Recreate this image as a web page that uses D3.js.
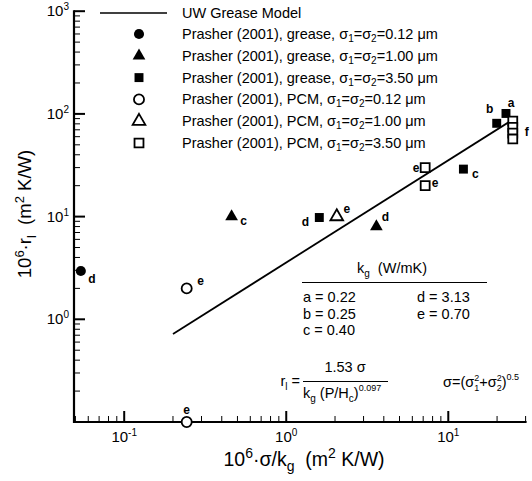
<!DOCTYPE html>
<html>
<head>
<meta charset="utf-8">
<script src="https://cdn.jsdelivr.net/npm/d3@7"></script>
<style>
  body { margin: 0; background: #fff; }
  text { font-family: "Liberation Sans", Arial, sans-serif; fill: #000; }
</style>
</head>
<body>
<div id="chart"></div>
<script>
// data (x = 10^6·sigma/kg, y = 10^6·r_l)
const modelX = [0.2, 25];
const modelY = [0.72, 88];

const greaseS012X = [0.054];
const greaseS012Y = [2.95];
const greaseS012Lbl = ["d"];

const greaseS100X = [0.46, 3.6];
const greaseS100Y = [10, 8];
const greaseS100Lbl = ["c", "d"];

const greaseS350X = [1.6, 12.4, 19.9, 22.7];
const greaseS350Y = [9.8, 29, 81, 101];
const greaseS350Lbl = ["d", "c", "b", "a"];

const pcmS012X = [0.243, 0.243];
const pcmS012Y = [2.0, 0.1];
const pcmS012Lbl = ["e", "e"];

const pcmS100X = [2.05];
const pcmS100Y = [10];
const pcmS100Lbl = ["e"];

const pcmS350X = [7.2, 7.2, 25, 25, 25, 25];
const pcmS350Y = [30, 20, 85, 74, 65, 57];
const pcmS350Lbl = ["e", "e", "", "", "f", ""];

const legendLabels = [
    ["grease", "0.12"], ["grease", "1.00"], ["grease", "3.50"],
    ["PCM", "0.12"], ["PCM", "1.00"], ["PCM", "3.50"]
];
const kgLabels = [["a = 0.22", "b = 0.25", "c = 0.40"], ["d = 3.13", "e = 0.70"]];

const xMajor = [0.1, 1, 10];
const xMajorExp = ["-1", "0", "1"];
const yMajor = [0.1, 1, 10, 100, 1000];
const yLabelled = [1, 10, 100, 1000];
const yLabelledExp = ["0", "1", "2", "3"];

const width = 532, height = 481;

const svg = d3.select("#chart")
  .append("svg")
    .attr("width", width)
    .attr("height", height);

const x = d3.scaleLog().domain([0.049, 30]).range([74, 525.6]);
const y = d3.scaleLog().domain([0.1, 1000]).range([422, 11.2]);

// ---- axes (ticks point inward) ----
const xMinor = [];
for (let dec of [0.01, 0.1, 1, 10]) for (let m = 2; m <= 9; m++) {
    const v = m * dec;
    if (v >= 0.049 && v <= 30) xMinor.push(v);
}
const yMinor = [];
for (let dec of [0.1, 1, 10, 100]) for (let m = 2; m <= 9; m++) yMinor.push(m * dec);

const axes = svg.append("g").attr("stroke", "#000");
axes.selectAll(".xmin").data(xMinor).enter().append("line")
    .attr("x1", d => x(d)).attr("x2", d => x(d))
    .attr("y1", y(0.1)).attr("y2", y(0.1) - 6).attr("stroke-width", 1);
axes.selectAll(".xmaj").data(xMajor).enter().append("line")
    .attr("x1", d => x(d)).attr("x2", d => x(d))
    .attr("y1", y(0.1)).attr("y2", y(0.1) - 11).attr("stroke-width", 2);
axes.selectAll(".ymin").data(yMinor).enter().append("line")
    .attr("x1", x(0.049)).attr("x2", x(0.049) + 6)
    .attr("y1", d => y(d)).attr("y2", d => y(d)).attr("stroke-width", 1);
axes.selectAll(".ymaj").data(yMajor).enter().append("line")
    .attr("x1", x(0.049)).attr("x2", x(0.049) + 11)
    .attr("y1", d => y(d)).attr("y2", d => y(d)).attr("stroke-width", 2);
axes.append("line")
    .attr("x1", x(0.049)).attr("x2", x(0.049))
    .attr("y1", y(1000) - 1).attr("y2", y(0.1) + 1).attr("stroke-width", 2.2);
axes.append("line")
    .attr("x1", x(0.049) - 1).attr("x2", x(30) + 1)
    .attr("y1", y(0.1)).attr("y2", y(0.1)).attr("stroke-width", 2.2);

// tick labels
const xt = svg.selectAll(".xt").data(xMajor).enter().append("text")
    .attr("x", d => x(d)).attr("y", 442)
    .attr("text-anchor", "middle").style("font-size", "15px");
xt.append("tspan").text("10");
xt.append("tspan").attr("dy", -6).style("font-size", "10px").text((d, i) => xMajorExp[i]);

const yt = svg.selectAll(".yt").data(yLabelled).enter().append("text")
    .attr("x", 69).attr("y", d => y(d) + 5)
    .attr("text-anchor", "end").style("font-size", "15px");
yt.append("tspan").text("10");
yt.append("tspan").attr("dy", -6).style("font-size", "10px").text((d, i) => yLabelledExp[i]);

// axis titles
const xTitle = svg.append("text")
    .attr("x", 304).attr("y", 466).attr("text-anchor", "middle").style("font-size", "19.5px");
xTitle.append("tspan").text("10");
xTitle.append("tspan").attr("dy", -8).style("font-size", "14px").text("6");
xTitle.append("tspan").attr("dy", 8).text("·σ/k");
xTitle.append("tspan").attr("dy", 5).style("font-size", "14px").text("g");
xTitle.append("tspan").attr("dy", -5).text("\u00a0\u00a0(m");
xTitle.append("tspan").attr("dy", -8).style("font-size", "14px").text("2");
xTitle.append("tspan").attr("dy", 8).text(" K/W)");

const yTitle = svg.append("text")
    .attr("transform", "translate(31,214) rotate(-90)")
    .attr("text-anchor", "middle").style("font-size", "18.5px");
yTitle.append("tspan").text("10");
yTitle.append("tspan").attr("dy", -7).style("font-size", "13px").text("6");
yTitle.append("tspan").attr("dy", 7).text("·r");
yTitle.append("tspan").attr("dy", 5).style("font-size", "13px").text("l");
yTitle.append("tspan").attr("dy", -5).text("\u00a0\u00a0(m");
yTitle.append("tspan").attr("dy", -7).style("font-size", "13px").text("2");
yTitle.append("tspan").attr("dy", 7).text(" K/W)");

// ---- model line ----
svg.append("path")
    .datum(modelX.map((d, i) => [d, modelY[i]]))
    .attr("fill", "none").attr("stroke", "#000").attr("stroke-width", 1.8)
    .attr("d", d3.line().x(d => x(d[0])).y(d => y(d[1])));

// ---- markers ----
const sym = {
    circle: d3.symbol().type(d3.symbolCircle).size(80),
    triangle: d3.symbol().type(d3.symbolTriangle).size(70),
    square: d3.symbol().type(d3.symbolSquare).size(80)
};
const series = [
    {xs: greaseS012X, ys: greaseS012Y, lbl: greaseS012Lbl, shape: "circle", filled: true},
    {xs: greaseS100X, ys: greaseS100Y, lbl: greaseS100Lbl, shape: "triangle", filled: true},
    {xs: greaseS350X, ys: greaseS350Y, lbl: greaseS350Lbl, shape: "square", filled: true},
    {xs: pcmS012X, ys: pcmS012Y, lbl: pcmS012Lbl, shape: "circle", filled: false},
    {xs: pcmS100X, ys: pcmS100Y, lbl: pcmS100Lbl, shape: "triangle", filled: false},
    {xs: pcmS350X, ys: pcmS350Y, lbl: pcmS350Lbl, shape: "square", filled: false}
];
// label offsets (px) per series/point
const labelOffsets = [
    [[11, 12]],
    [[12, 8], [9, -6]],
    [[-14, 8], [12, 9], [-7, -10], [5, -6]],
    [[14, -3], [0, -8]],
    [[10, -4]],
    [[-9, 4], [10, 1], [0, 0], [0, 0], [14, 3], [0, 0]]
];

const drawMarker = (g, shape, filled, cx, cy) => {
    g.append("path")
        .attr("d", sym[shape]())
        .attr("transform", `translate(${cx},${cy})`)
        .attr("fill", filled ? "#000" : "#fff")
        .attr("stroke", "#000")
        .attr("stroke-width", filled ? 0 : 1.8);
};

const marks = svg.append("g");
series.forEach((s, si) => {
    s.xs.forEach((xv, i) => {
        drawMarker(marks, s.shape, s.filled, x(xv), y(s.ys[i]));
        if (s.lbl[i]) {
            const off = labelOffsets[si][i];
            marks.append("text")
                .attr("x", x(xv) + off[0]).attr("y", y(s.ys[i]) + off[1])
                .attr("text-anchor", "middle")
                .style("font-size", "12px").style("font-weight", "bold")
                .text(s.lbl[i]);
        }
    });
});

// ---- legend ----
const legend = svg.append("g");
legend.append("line")
    .attr("x1", 100).attr("x2", 167).attr("y1", 13).attr("y2", 13)
    .attr("stroke", "#000").attr("stroke-width", 1.5);
legend.append("text").attr("x", 182).attr("y", 18).style("font-size", "14.5px").text("UW Grease Model");
legendLabels.forEach((l, i) => {
    const ly = 34 + i * 21.8;
    const s = series[i];
    drawMarker(legend, s.shape, s.filled, 139, ly);
    const t = legend.append("text").attr("x", 182).attr("y", ly + 5).style("font-size", "14.5px");
    t.append("tspan").text(`Prasher (2001), ${l[0]}, σ`);
    t.append("tspan").attr("dy", 3).style("font-size", "10px").text("1");
    t.append("tspan").attr("dy", -3).text("=σ");
    t.append("tspan").attr("dy", 3).style("font-size", "10px").text("2");
    t.append("tspan").attr("dy", -3).text(`=${l[1]} μm`);
});

// ---- kg table ----
const kt = svg.append("text").attr("x", 392).attr("y", 273)
    .attr("text-anchor", "middle").style("font-size", "14.5px");
kt.append("tspan").text("k");
kt.append("tspan").attr("dy", 4).style("font-size", "10px").text("g");
kt.append("tspan").attr("dy", -4).text("\u00a0\u00a0(W/mK)");
svg.append("line").attr("x1", 302).attr("x2", 487).attr("y1", 282.5).attr("y2", 282.5)
    .attr("stroke", "#000").attr("stroke-width", 1);
kgLabels.forEach((col, ci) => {
    col.forEach((txt, ri) => {
        svg.append("text")
            .attr("x", ci === 0 ? 303 : 417).attr("y", 302 + ri * 16.5)
            .style("font-size", "14.5px").text(txt);
    });
});

// ---- formula ----
const rl = svg.append("text").attr("x", 300).attr("y", 386).attr("text-anchor", "end").style("font-size", "14.5px");
rl.append("tspan").text("r");
rl.append("tspan").attr("dy", 4).style("font-size", "10px").text("l");
rl.append("tspan").attr("dy", -4).text(" =");
svg.append("text").attr("x", 345).attr("y", 372).attr("text-anchor", "middle")
    .style("font-size", "14.5px").text("1.53 σ");
svg.append("line").attr("x1", 303).attr("x2", 388).attr("y1", 381.5).attr("y2", 381.5)
    .attr("stroke", "#000").attr("stroke-width", 1);
const den = svg.append("text").attr("x", 303).attr("y", 398).style("font-size", "14.5px");
den.append("tspan").text("k");
den.append("tspan").attr("dy", 4).style("font-size", "10px").text("g");
den.append("tspan").attr("dy", -4).text(" (P/H");
den.append("tspan").attr("dy", 4).style("font-size", "10px").text("c");
den.append("tspan").attr("dy", -4).text(")");
den.append("tspan").attr("dy", -7).style("font-size", "9px").text("0.097");

const sg = svg.append("text").attr("x", 443).attr("y", 387).style("font-size", "14.5px");
sg.append("tspan").text("σ=(σ");
sg.append("tspan").attr("dy", 4).style("font-size", "9px").text("1");
sg.append("tspan").attr("dy", -10).attr("dx", -5).style("font-size", "9px").text("2");
sg.append("tspan").attr("dy", 6).text("+σ");
sg.append("tspan").attr("dy", 4).style("font-size", "9px").text("2");
sg.append("tspan").attr("dy", -10).attr("dx", -5).style("font-size", "9px").text("2");
sg.append("tspan").attr("dy", 6).text(")");
sg.append("tspan").attr("dy", -7).style("font-size", "9px").text("0.5");
</script>
</body>
</html>
